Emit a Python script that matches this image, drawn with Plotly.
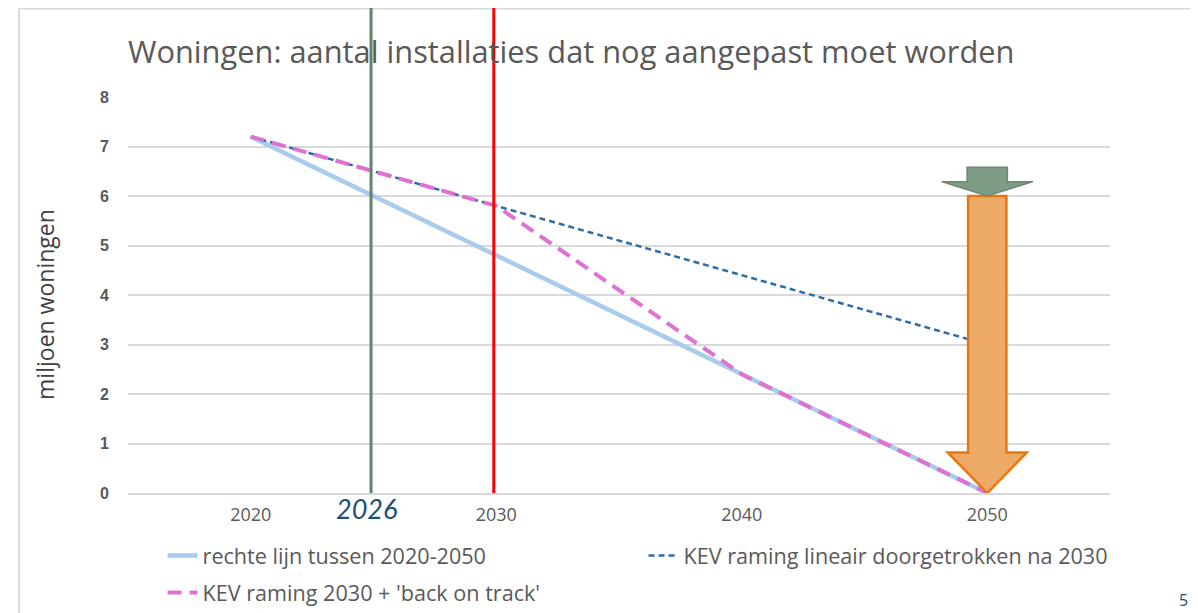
import plotly.graph_objects as go

# ---- data ----
years = [2020, 2030, 2040, 2050]
rechte_lijn = [7.2, 4.8, 2.4, 0.0]
kev_lineair = [7.2, 5.8, 4.4, 3.0]
kev_back_on_track = [7.2, 5.8, 2.4, 0.0]
series_names = ["rechte lijn tussen 2020-2050",
                "KEV raming lineair doorgetrokken na 2030",
                "KEV raming 2030 + 'back on track'"]
x_ticks = [2020, 2030, 2040, 2050]
y_ticks = [0, 1, 2, 3, 4, 5, 6, 7, 8]
marker_years = [2024.9, 2029.9]      # green and red vertical lines
marker_label = "2026"
arrow_year = 2050
arrow_top = 6.0                      # orange arrow from this value down to 0
green_arrow_top = 6.58
title = "Woningen: aantal installaties dat nog aangepast moet worden"
y_title = "miljoen woningen"
page_number = "5"

GREY = "#595959"
FONT = "Open Sans"

# page body has an 8px margin: figure is drawn at (8, 8)
W, H = 1190, 605

fig = go.Figure()
fig.add_trace(go.Scatter(x=years, y=rechte_lijn, mode="lines", name=series_names[0],
                         line=dict(color="#A9CBEC", width=4.5), legend="legend"))
fig.add_trace(go.Scatter(x=years, y=kev_lineair, mode="lines", name=series_names[1],
                         line=dict(color="#2E6CA8", width=2.5, dash="6px,4px"), legend="legend2"))
fig.add_trace(go.Scatter(x=years, y=kev_back_on_track, mode="lines", name=series_names[2],
                         line=dict(color="#DE72D3", width=4, dash="14px,8px"), legend="legend3"))

shapes = []
# frame lines (slide border)
shapes.append(dict(type="line", xref="paper", yref="paper", x0=-0.111, x1=-0.111, y0=-0.31, y1=1.2235,
                   line=dict(color="#D9D9D9", width=2), layer="below"))
shapes.append(dict(type="line", xref="paper", yref="paper", x0=-0.111, x1=1.0815, y0=1.2235, y1=1.2235,
                   line=dict(color="#D9D9D9", width=2), layer="below"))
# vertical marker lines
for yr, col in zip(marker_years, ["#62826A", "#FF0000"]):
    shapes.append(dict(type="line", xref="x", yref="paper", x0=yr, x1=yr, y0=0, y1=1.25,
                       line=dict(color=col, width=3), layer="above"))

# orange arrow
bw, hw, hy = 0.78, 1.61, 0.82
c = arrow_year
p = (f"M {c-bw},{arrow_top} L {c+bw},{arrow_top} L {c+bw},{hy} L {c+hw},{hy} "
     f"L {c},0 L {c-hw},{hy} L {c-bw},{hy} Z")
shapes.append(dict(type="path", xref="x", yref="y", path=p, fillcolor="#EDAA66",
                   line=dict(color="#E8770F", width=2.5), layer="above"))
# green arrow
gbw, ghw, ghy = 0.82, 1.86, 6.29
p2 = (f"M {c-gbw},{green_arrow_top} L {c+gbw},{green_arrow_top} L {c+gbw},{ghy} L {c+ghw},{ghy} "
      f"L {c},{arrow_top} L {c-ghw},{ghy} L {c-gbw},{ghy} Z")
shapes.append(dict(type="path", xref="x", yref="y", path=p2, fillcolor="#7E9C85",
                   line=dict(color="#6A8A70", width=1.5), layer="above"))

annotations = [
    dict(text=marker_label, xref="x", yref="paper", x=2024.7, y=-0.038, yanchor="middle",
         xanchor="center", showarrow=False,
         font=dict(family="Lato", size=27, color="#1F4E79", style="italic")),
    dict(text=y_title, xref="paper", yref="paper", x=-0.0845, y=0.475, textangle=-90,
         showarrow=False, xanchor="center", yanchor="middle",
         font=dict(family=FONT, size=23, color="#404040")),
    dict(text=page_number, xref="paper", yref="paper", x=1.0804, y=-0.270, showarrow=False,
         xanchor="right", yanchor="middle", borderpad=0,
         font=dict(family=FONT, size=16, color="#1F4E79")),
]

leg_common = dict(orientation="h", xanchor="left", yanchor="middle", bgcolor="rgba(0,0,0,0)",
                  font=dict(family=FONT, size=21.6, color=GREY))

fig.update_layout(
    width=W, height=H,
    margin=dict(l=120, r=88, t=89, b=120, autoexpand=False),
    paper_bgcolor="white", plot_bgcolor="white",
    showlegend=True,
    title=dict(text=title, xref="container", x=(128 - 8) / W, xanchor="left",
               y=1 - (52 - 8) / H, yanchor="middle", font=dict(family=FONT, size=30.8, color=GREY)),
    xaxis=dict(range=[2015, 2055], tickvals=x_ticks, showgrid=False, zeroline=False,
               showline=True, linecolor="#D9D9D9", linewidth=1.5, ticks="",
               ticklabelstandoff=5, tickfont=dict(family=FONT, size=18, color=GREY)),
    yaxis=dict(range=[0, 8], tickvals=y_ticks, showgrid=True, gridcolor="#D9D9D9", gridwidth=1.5,
               zeroline=False, ticks="", ticklabelstandoff=18,
               tickfont=dict(family="Liberation Sans", size=16, color=GREY, weight="bold")),
    legend=dict(x=0.0352, y=-0.159, **leg_common),
    legend2=dict(x=0.525, y=-0.159, **leg_common),
    legend3=dict(x=0.0352, y=-0.2525, **leg_common),
    shapes=shapes, annotations=annotations,
)

fig.write_html("out.html")
